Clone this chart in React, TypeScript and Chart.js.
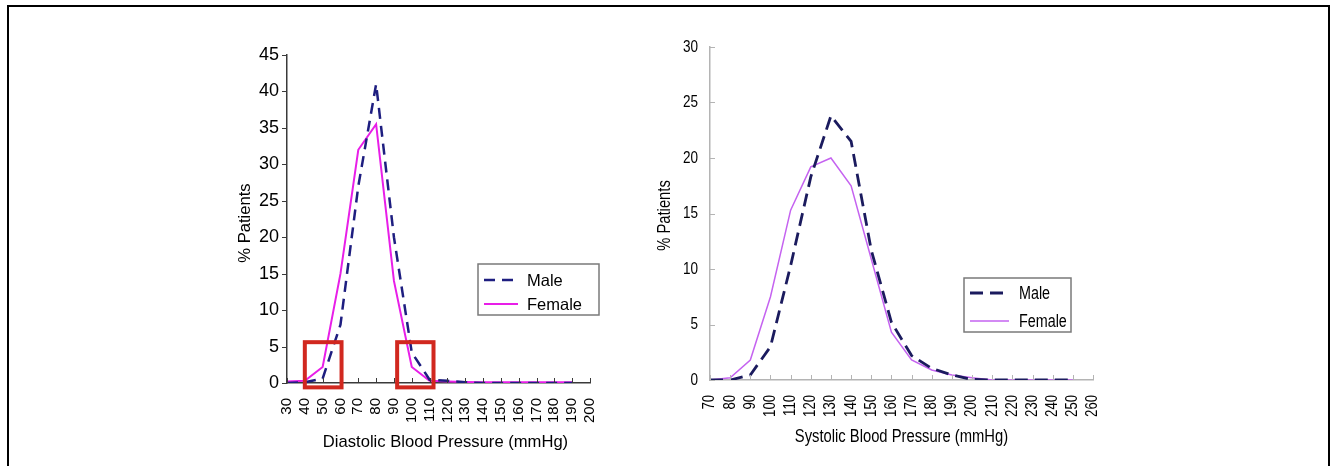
import React, { useEffect, useRef } from "react";
import { Chart, registerables } from "chart.js";

Chart.register(...registerables);

// ---------- Data ----------
const diastolicBP = [30, 40, 50, 60, 70, 80, 90, 100, 110, 120, 130, 140, 150, 160, 170, 180, 190];
const diastolicMale = [0, 0.1, 0.6, 8, 27, 41, 20, 4.2, 0.45, 0.3, 0.1, 0, 0, 0, 0, 0, 0];
const diastolicFemale = [0.2, 0.3, 2.2, 15, 32, 35.5, 14, 2.2, 0.3, 0.2, 0.15, 0.1, 0.1, 0.1, 0.1, 0.1, 0.1];
const diastolicXTicks = [30, 40, 50, 60, 70, 80, 90, 100, 110, 120, 130, 140, 150, 160, 170, 180, 190, 200];
const diastolicYTicks = [0, 5, 10, 15, 20, 25, 30, 35, 40, 45];
// highlighted ranges (mmHg from..to, % from..to)
const diastolicHighlightX = [[40, 60.6], [91.8, 112.2]];
const diastolicHighlightY = [[-0.6, 5.6], [-0.6, 5.6]];

const systolicBP = [70, 80, 90, 100, 110, 120, 130, 140, 150, 160, 170, 180, 190, 200, 210, 220, 230, 240, 250];
const systolicMale = [0, 0, 0.45, 3, 10.3, 18.3, 23.8, 21.5, 11.7, 5.2, 2.2, 1.05, 0.45, 0.05, 0, 0, 0, 0, 0];
const systolicFemale = [0, 0.2, 1.8, 7.5, 15.3, 19.2, 20, 17.5, 10.9, 4.3, 1.8, 0.9, 0.45, 0.2, 0, 0, 0, 0, 0];
const systolicXTicks = [70, 80, 90, 100, 110, 120, 130, 140, 150, 160, 170, 180, 190, 200, 210, 220, 230, 240, 250, 260];
const systolicYTicks = [0, 5, 10, 15, 20, 25, 30];

const seriesNames = ["Male", "Female"];
const yTitleText = "% Patients";

const ARIAL = "'Liberation Sans', Arial, sans-serif";

// ---------- Plugin ----------
function stretchedText(
  ctx: CanvasRenderingContext2D,
  text: string,
  x: number,
  y: number,
  rot: number,
  stretch: number,
  align: CanvasTextAlign
) {
  ctx.save();
  ctx.translate(x, y);
  if (rot) ctx.rotate(rot);
  ctx.scale(stretch, 1);
  ctx.textAlign = align;
  ctx.textBaseline = "middle";
  ctx.fillText(text, 0, 0);
  ctx.restore();
}

const decorPlugin = {
  id: "decor",
  afterDraw(chart: any, _args: any, opts: any) {
    const ctx = chart.ctx as CanvasRenderingContext2D;
    const xs = chart.scales.x;
    const ys = chart.scales.y;
    const a = chart.chartArea;
    const st = opts.stretch;
    ctx.save();
    // tick marks
    ctx.strokeStyle = opts.tickColor;
    ctx.lineWidth = 1;
    xs.ticks.forEach((t: any) => {
      const px = Math.round(xs.getPixelForValue(t.value)) + 0.5;
      ctx.beginPath();
      ctx.moveTo(px, a.bottom);
      ctx.lineTo(px, a.bottom + opts.xTickDir * opts.tickLen);
      ctx.stroke();
    });
    ys.ticks.forEach((t: any) => {
      const py = Math.round(ys.getPixelForValue(t.value)) + 0.5;
      ctx.beginPath();
      ctx.moveTo(a.left, py);
      ctx.lineTo(a.left + opts.yTickDir * opts.tickLen, py);
      ctx.stroke();
    });
    // tick labels
    ctx.fillStyle = "#000";
    ctx.font = `${opts.xTickFont}px ${ARIAL}`;
    xs.ticks.forEach((t: any) => {
      const px = xs.getPixelForValue(t.value);
      stretchedText(ctx, String(t.value), px, a.bottom + opts.xTickPad, -Math.PI / 2, st, "right");
    });
    ctx.font = `${opts.yTickFont}px ${ARIAL}`;
    ys.ticks.forEach((t: any) => {
      const py = ys.getPixelForValue(t.value);
      stretchedText(ctx, String(t.value), a.left - opts.yTickPad, py, 0, st, "right");
    });
    // axis titles
    ctx.font = `${opts.titleFont}px ${ARIAL}`;
    stretchedText(ctx, opts.xTitle, (a.left + a.right) / 2 + opts.xTitleDx, a.bottom + opts.xTitleDy, 0, st, "center");
    stretchedText(ctx, yTitleText, a.left - opts.yTitleDx, (a.top + a.bottom) / 2 + opts.yTitleDy, -Math.PI / 2, st, "center");
    // highlight boxes
    (opts.boxesX || []).forEach((bx: number[], i: number) => {
      const by = opts.boxesY[i];
      const x0 = xs.getPixelForValue(bx[0]);
      const x1 = xs.getPixelForValue(bx[1]);
      const y0 = ys.getPixelForValue(by[1]);
      const y1 = ys.getPixelForValue(by[0]);
      ctx.strokeStyle = "#d1281f";
      ctx.lineWidth = 4;
      ctx.setLineDash([]);
      ctx.strokeRect(x0, y0, x1 - x0, y1 - y0);
    });
    // legend
    const lg = opts.legend;
    const lx = a.left + lg.dx;
    const ly = a.top + lg.dy;
    ctx.setLineDash([]);
    ctx.strokeStyle = "#7a7a7a";
    ctx.lineWidth = 1.5;
    ctx.strokeRect(lx, ly, lg.w, lg.h);
    ctx.font = `${lg.font}px ${ARIAL}`;
    ctx.fillStyle = "#000";
    chart.data.datasets.forEach((ds: any, i: number) => {
      const yy = ly + lg.rowY[i];
      ctx.strokeStyle = ds.borderColor;
      ctx.lineWidth = ds.borderWidth;
      ctx.setLineDash(ds.borderDash || []);
      ctx.beginPath();
      ctx.moveTo(lx + lg.sx0, yy);
      ctx.lineTo(lx + lg.sx1, yy);
      ctx.stroke();
      ctx.setLineDash([]);
      stretchedText(ctx, ds.label, lx + lg.tx, yy + 1, 0, st, "left");
    });
    ctx.restore();
  },
};

type Cfg = {
  bp: number[];
  male: number[];
  female: number[];
  xTicks: number[];
  yTicks: number[];
  axisColor: string;
  maleColor: string;
  femaleColor: string;
  maleWidth: number;
  femaleWidth: number;
  maleDash: number[];
  padding: any;
  yWidth: number;
  xHeight: number;
  decor: any;
  width: number;
  height: number;
};

function BPChart({ cfg, style }: { cfg: Cfg; style: React.CSSProperties }) {
  const ref = useRef<HTMLCanvasElement>(null);
  useEffect(() => {
    if (!ref.current) return;
    const mk = (vals: number[]) => cfg.bp.map((x, i) => ({ x, y: vals[i] }));
    const chart = new Chart(ref.current, {
      type: "line",
      data: {
        datasets: [
          {
            label: seriesNames[0],
            data: mk(cfg.male),
            borderColor: cfg.maleColor,
            borderWidth: cfg.maleWidth,
            borderDash: cfg.maleDash,
            pointRadius: 0,
            tension: 0,
            fill: false,
          },
          {
            label: seriesNames[1],
            data: mk(cfg.female),
            borderColor: cfg.femaleColor,
            borderWidth: cfg.femaleWidth,
            pointRadius: 0,
            tension: 0,
            fill: false,
          },
        ],
      },
      options: {
        animation: false,
        responsive: false,
        events: [],
        layout: { padding: cfg.padding },
        plugins: {
          legend: { display: false },
          tooltip: { enabled: false },
          decor: cfg.decor,
        } as any,
        scales: {
          x: {
            type: "linear",
            min: cfg.xTicks[0],
            max: cfg.xTicks[cfg.xTicks.length - 1],
            afterBuildTicks: (s: any) => {
              s.ticks = cfg.xTicks.map((v) => ({ value: v }));
            },
            afterFit: (s: any) => {
              s.height = cfg.xHeight;
            },
            grid: { display: false, drawTicks: false },
            border: { display: true, color: cfg.axisColor, width: 1.5 },
            ticks: { display: false, autoSkip: false },
            title: { display: false },
          },
          y: {
            type: "linear",
            min: cfg.yTicks[0],
            max: cfg.yTicks[cfg.yTicks.length - 1],
            afterBuildTicks: (s: any) => {
              s.ticks = cfg.yTicks.map((v) => ({ value: v }));
            },
            afterFit: (s: any) => {
              s.width = cfg.yWidth;
            },
            grid: { display: false, drawTicks: false },
            border: { display: true, color: cfg.axisColor, width: 1.5 },
            ticks: { display: false },
            title: { display: false },
          },
        },
      } as any,
      plugins: [decorPlugin as any],
    });
    return () => chart.destroy();
  }, [cfg]);
  return <canvas ref={ref} width={cfg.width} height={cfg.height} style={{ position: "absolute", ...style }} />;
}

const leftCfg: Cfg = {
  bp: diastolicBP,
  male: diastolicMale,
  female: diastolicFemale,
  xTicks: diastolicXTicks,
  yTicks: diastolicYTicks,
  axisColor: "#3a3a3a",
  maleColor: "#1e1e80",
  femaleColor: "#e81ee8",
  maleWidth: 2.5,
  femaleWidth: 2,
  maleDash: [11, 7],
  padding: { top: 25, right: 30, left: 0, bottom: 0 },
  yWidth: 87,
  xHeight: 77,
  width: 420,
  height: 430,
  decor: {
    stretch: 1,
    tickColor: "#3a3a3a",
    tickLen: 5,
    xTickDir: -1,
    yTickDir: -1,
    xTickFont: 15,
    yTickFont: 18,
    titleFont: 16.6,
    xTickPad: 15,
    yTickPad: 8,
    xTitle: "Diastolic Blood Pressure (mmHg)",
    xTitleDx: 7,
    xTitleDy: 59,
    yTitleDx: 42,
    yTitleDy: 4,
    boxesX: diastolicHighlightX,
    boxesY: diastolicHighlightY,
    legend: { dx: 191, dy: 209, w: 121, h: 51, rowY: [16, 40], sx0: 6, sx1: 40, tx: 49, font: 16.5 },
  },
};

const rightCfg: Cfg = {
  bp: systolicBP,
  male: systolicMale,
  female: systolicFemale,
  xTicks: systolicXTicks,
  yTicks: systolicYTicks,
  axisColor: "#b4b4b4",
  maleColor: "#1b1b5e",
  femaleColor: "#c563f0",
  maleWidth: 2.8,
  femaleWidth: 1.5,
  maleDash: [13, 7],
  padding: { top: 27, right: 27, left: 0, bottom: 0 },
  yWidth: 60,
  xHeight: 80,
  width: 470,
  height: 440,
  decor: {
    stretch: 0.82,
    tickColor: "#b4b4b4",
    tickLen: 5,
    xTickDir: -1,
    yTickDir: 1,
    xTickFont: 16,
    yTickFont: 16.5,
    titleFont: 18,
    xTickPad: 15,
    yTickPad: 12,
    xTitle: "Systolic Blood Pressure (mmHg)",
    xTitleDx: 0,
    xTitleDy: 57,
    yTitleDx: 45,
    yTitleDy: 2,
    legend: { dx: 254, dy: 231, w: 107, h: 54, rowY: [15, 43], sx0: 6, sx1: 45, tx: 55, font: 17.5 },
  },
};

export default function App() {
  return (
    <div
      style={{
        position: "absolute",
        left: 0,
        top: 0,
        width: 1337,
        height: 466,
        background: "#fff",
        overflow: "hidden",
      }}
    >
      <div
        style={{
          position: "absolute",
          left: 7,
          top: 5,
          width: 1319,
          height: 520,
          border: "2px solid #000",
          boxSizing: "content-box",
        }}
      />
      <BPChart cfg={leftCfg} style={{ left: 200, top: 30 }} />
      <BPChart cfg={rightCfg} style={{ left: 650, top: 20 }} />
    </div>
  );
}
